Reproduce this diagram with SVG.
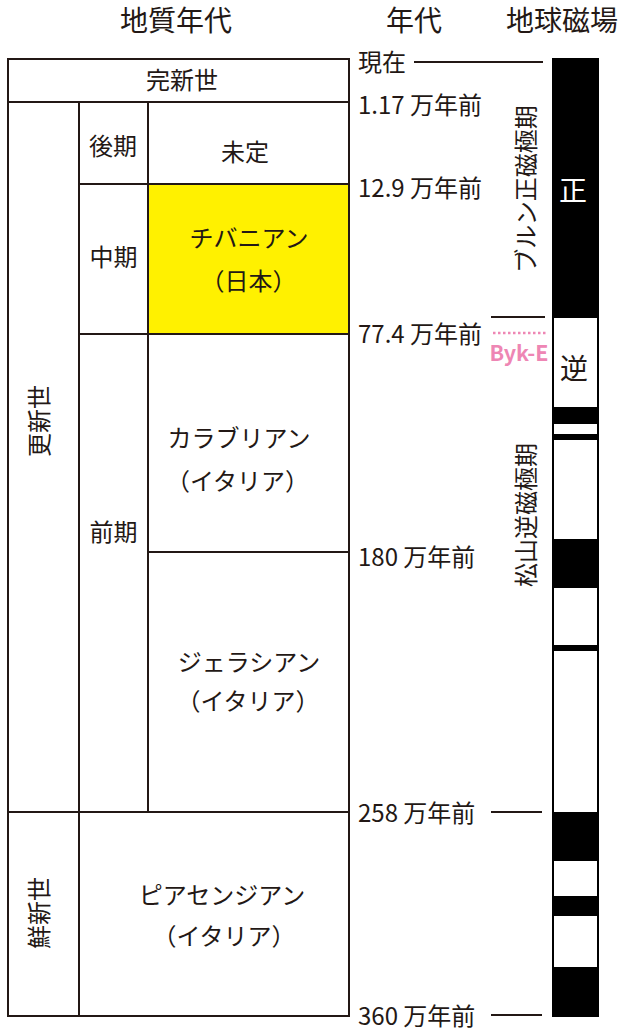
<svg xmlns="http://www.w3.org/2000/svg" width="622" height="1030" viewBox="0 0 622 1030">
<style>
text{font-family:"Noto Sans CJK JP","Noto Sans",sans-serif;fill:#231815}
.h{font-size:28px;text-anchor:middle}
.l{font-size:24px;text-anchor:middle}
.t{font-size:24px}
.big{font-size:28px;text-anchor:middle}
.cell{fill:#fff;stroke:#231815;stroke-width:2}
.ln{stroke:#231815;stroke-width:2;fill:none}
.blk{fill:#000}
</style>
<rect width="622" height="1030" fill="#fff"/>
<g id="headers">
<text class="h" x="176" y="31">地質年代</text>
<text class="h" x="414" y="31">年代</text>
<text class="h" x="562" y="31">地球磁場</text>
</g>
<g id="holocene"><rect class="cell" x="8" y="59" width="341" height="43"/><text class="l" x="182" y="89">完新世</text></g>
<g id="pleistocene"><rect class="cell" x="8" y="102" width="71" height="710"/><text class="l" transform="translate(47.5,421) rotate(-90)">更新世</text></g>
<g id="late"><rect class="cell" x="79" y="102" width="69" height="82"/><text class="l" x="113" y="155">後期</text></g>
<g id="undetermined"><rect class="cell" x="148" y="102" width="201" height="82"/><text class="l" x="245" y="161">未定</text></g>
<g id="middle"><rect class="cell" x="79" y="184" width="69" height="150"/><text class="l" x="113.5" y="266">中期</text></g>
<g id="chibanian"><rect x="148" y="184" width="201" height="150" fill="#fff100" stroke="#231815" stroke-width="2"/><text class="l" x="249" y="247">チバニアン</text><text class="l" x="248.5" y="290">（日本）</text></g>
<g id="early"><rect class="cell" x="79" y="334" width="69" height="478"/><text class="l" x="113.5" y="541">前期</text></g>
<g id="calabrian"><rect class="cell" x="148" y="334" width="201" height="218"/><text class="l" x="239" y="447">カラブリアン</text><text class="l" x="237.5" y="490">（イタリア）</text></g>
<g id="gelasian"><rect class="cell" x="148" y="552" width="201" height="260"/><text class="l" x="249" y="671">ジェラシアン</text><text class="l" x="248" y="710">（イタリア）</text></g>
<g id="pliocene"><rect class="cell" x="8" y="812" width="71" height="204"/><text class="l" transform="translate(47.5,913) rotate(-90)">鮮新世</text></g>
<g id="piacenzian"><rect class="cell" x="79" y="812" width="270" height="204"/><text class="l" x="222" y="904">ピアセンジアン</text><text class="l" x="224" y="945">（イタリア）</text></g>
<g id="ages">
<text class="t" x="358" y="71">現在</text>
<text class="t" x="358" y="114">1.17 万年前</text>
<text class="t" x="358" y="197">12.9 万年前</text>
<text class="t" x="358" y="343">77.4 万年前</text>
<text class="t" x="358" y="566">180 万年前</text>
<text class="t" x="358" y="822">258 万年前</text>
<text class="t" x="358" y="1025">360 万年前</text>
</g>
<g id="connectors">
<line class="ln" x1="414" y1="62" x2="543" y2="62"/>
<line class="ln" x1="491" y1="317" x2="545" y2="317"/>
<line x1="493" y1="333" x2="548" y2="333" stroke="#ee86b4" stroke-width="2.5" stroke-dasharray="2.5 2.5"/>
<line class="ln" x1="491" y1="812" x2="542" y2="812"/>
<line class="ln" x1="491" y1="1015" x2="542" y2="1015"/>
</g>
<g id="byk-e"><text x="519" y="361" font-family="Noto Sans,sans-serif" font-weight="bold" font-size="21.5" style="fill:#ee86b4" text-anchor="middle">Byk-E</text></g>
<g id="magnetic-bar">
<rect x="553" y="59" width="45" height="957" fill="#fff" stroke="#000" stroke-width="2"/>
<rect class="blk" x="552" y="59" width="47" height="259"/>
<rect class="blk" x="552" y="407" width="47" height="17"/>
<rect class="blk" x="552" y="434" width="47" height="6"/>
<rect class="blk" x="552" y="539" width="47" height="49"/>
<rect class="blk" x="552" y="645" width="47" height="6"/>
<rect class="blk" x="552" y="812" width="47" height="49"/>
<rect class="blk" x="552" y="896" width="47" height="20"/>
<rect class="blk" x="552" y="967" width="47" height="49"/>
<text class="big" x="573" y="201" style="fill:#fff">正</text>
<text class="big" x="574" y="379">逆</text>
</g>
<g id="brunhes"><text class="l" transform="translate(535,189) rotate(-90)">ブルン正磁極期</text></g>
<g id="matuyama"><text class="l" transform="translate(535,515) rotate(-90)">松山逆磁極期</text></g>
</svg>
